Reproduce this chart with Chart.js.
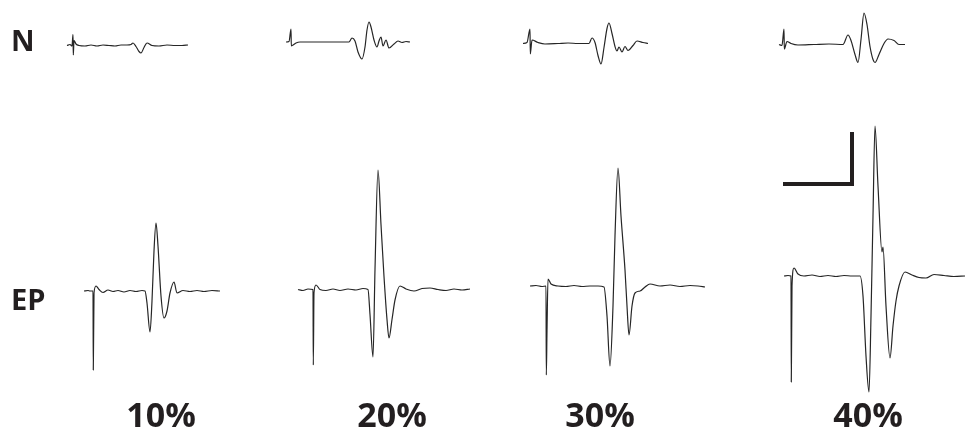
<!DOCTYPE html>
<html>
<head>
<meta charset="utf-8">
<script src="https://cdn.jsdelivr.net/npm/chart.js@4"></script>
<style>
  html, body { margin: 0; padding: 0; background: #fff; }
  #wrap { width: 968px; height: 428px; }
</style>
</head>
<body>
<div id="wrap"><canvas id="traces" width="968" height="428"></canvas></div>
<script>
// Recorded traces: time (samples from sweep start) and amplitude (up = positive)
const rowLabels = ['N', 'EP'];
const intensityLabels = ['10%', '20%', '30%', '40%'];

// N row
const n10Time = [0, 3, 5, 6, 6.3, 7, 9, 12, 18, 24, 30, 36, 42, 48, 54, 60, 64, 66, 69, 72, 74, 77, 80, 85, 92, 100, 108, 115, 121];
const n10Amp  = [0, 1, -0.5, 11, -9.5, 5, 1.5, 0, -0.5, 0.5, -0.5, 0.5, 0, -0.5, 0.5, 0.5, 1, 2.5, -1, -6, -7.5, -2, 2.5, 0, -0.5, 0.5, 0, 0, 0.5];

const n20Time = [0, 3, 5, 5.3, 7, 10, 14, 30, 50, 63, 66, 69, 72, 76, 79, 81, 83, 85, 88, 91, 93, 95, 97, 100, 103, 108, 112, 116, 120, 124];
const n20Amp  = [0, 0.5, 13, -4, -3, -1, 0, 0, 0, 0, 4, 1, -10, -17, -5, 12, 20, 15, 2, -5, 1, 5, -4, 2, -6, -2, 1, -0.5, 0.5, 0];

const n30Time = [0, 4, 7, 7.3, 9, 15, 22, 35, 45, 55, 66, 69, 72, 75, 78, 81, 84, 86, 89, 92, 94, 96, 99, 102, 105, 110, 114, 120, 125];
const n30Amp  = [0, 1, 14.5, -10.5, 3.5, 1, -0.5, 0, 0.5, 0, 0, 5.5, 1, -12, -20.5, -4, 15, 20.5, 10, -3, -7.5, -3.5, -8.5, -3, -7, -2, 2.5, 1, 0];

const n40Time = [0, 3, 5, 5.3, 8, 12, 19, 35, 50, 64, 69, 72, 76, 79, 82, 85, 88, 91, 94, 96, 100, 105, 109, 115, 120, 126];
const n40Amp  = [0, -1, 15.5, -4.5, 3, 1, -0.5, 0, 0.5, 0, 9.5, 4, -10, -18, 5, 31.5, 20, -2, -15, -18, -10, 1, 5.5, 4, 0, 0];

// EP row
const ep10Time = [0, 4, 6, 9, 9.3, 10, 12, 15, 19, 24, 29, 34, 40, 46, 52, 58, 61, 63, 66, 68, 70, 72, 74, 77, 80, 83, 86, 90, 93, 99, 106, 113, 120, 128, 136];
const ep10Amp  = [0, 0.5, 0, 0, -79, -2, 5, 1.5, -1.5, 1, -0.5, 0.5, -1, 0.5, -0.5, 0.5, 0, -12, -41, -10, 40, 68, 45, -5, -27, -20, -2, 9, -2, 0.5, -0.5, 0.5, -0.5, 0.5, 0];

const ep20Time = [0, 5, 10, 15, 15.3, 16, 18, 22, 28, 35, 42, 50, 58, 65, 70, 72, 75, 77, 80, 83, 86, 89, 91, 94, 97, 102, 108, 116, 124, 132, 140, 148, 156, 164, 172];
const ep20Amp  = [0, -1, 0.5, 0, -75.5, -3, 4.5, 0, -1, 0.5, -1, 0.5, -0.5, 1, 0, -25, -67.5, 20, 119.5, 65, 13, -30, -48.5, -30, -10.5, 3.5, 0.5, -1.5, 1, 1.5, 0, -1, 0.5, -0.5, 0.5];

const ep30Time = [0, 6, 12, 16, 16.3, 17, 18, 21, 28, 36, 44, 52, 60, 68, 74, 77, 80, 83, 85, 88, 91, 95, 97, 99, 102, 105, 110, 115, 120, 130, 140, 150, 160, 168, 175];
const ep30Amp  = [0, 0.5, -0.5, 0, -89, -45, 7, 2, 0, -0.5, 0.5, -0.5, 0, 0, -1, -30, -80, -20, 50, 118, 70, 16, -20, -49, -20, -7, -5, -1, 2, 0, 1, -0.5, 0.5, 0, -1];

const ep40Time = [0, 4, 7, 7.3, 8, 10, 14, 20, 28, 36, 44, 52, 60, 68, 76, 79, 82, 85, 87, 89, 91, 94, 98, 99, 102, 106, 109, 112, 115, 121, 128, 135, 142, 150, 160, 170, 181];
const ep40Amp  = [0, 0.5, 0, -106, -10, 8, 2, 0, 1, -0.5, 0.5, -0.5, 0.5, 0, 0, -20, -80, -116, -40, 60, 150, 90, 24, 29, -30, -82, -50, -25, -10, 4, 1, -1.5, -2, 1.5, 0.5, -0.5, 0];

// Calibration bar (time, amplitude)
const scaleBarTime = [0, 67, 67];
const scaleBarAmp  = [0, 0, 50];

// where each sweep sits on the page
const sweepPlacement = [
  { time: n10Time, amp: n10Amp, left: 67, base: 45.5 },
  { time: n20Time, amp: n20Amp, left: 286, base: 42 },
  { time: n30Time, amp: n30Amp, left: 523, base: 43.5 },
  { time: n40Time, amp: n40Amp, left: 779, base: 44.5 },
  { time: ep10Time, amp: ep10Amp, left: 84, base: 291 },
  { time: ep20Time, amp: ep20Amp, left: 298, base: 289.5 },
  { time: ep30Time, amp: ep30Amp, left: 530, base: 286 },
  { time: ep40Time, amp: ep40Amp, left: 784, base: 276 }
];

function toPoints(time, amp, left, base) {
  return time.map((t, i) => ({ x: left + t, y: base - amp[i] }));
}

const datasets = sweepPlacement.map(s => ({
  data: toPoints(s.time, s.amp, s.left, s.base),
  borderColor: '#262626',
  borderWidth: 1.2,
  cubicInterpolationMode: 'monotone'
}));
datasets.push({
  data: toPoints(scaleBarTime, scaleBarAmp, 785, 184),
  borderColor: '#231f20',
  borderWidth: 4,
  borderCapStyle: 'square'
});

// Row / intensity labels
const labelPlugin = {
  id: 'panelLabels',
  afterDraw(chart) {
    const ctx = chart.ctx;
    ctx.save();
    ctx.fillStyle = '#231f20';
    ctx.textBaseline = 'alphabetic';
    ctx.font = 'bold 29px "Open Sans"';
    ctx.textAlign = 'left';
    ctx.fillText(rowLabels[0], 11, 51);
    ctx.fillText(rowLabels[1], 11, 310);
    ctx.font = 'bold 34px "Open Sans"';
    ctx.textAlign = 'center';
    const centers = [161, 392, 600, 868];
    intensityLabels.forEach((lab, i) => ctx.fillText(lab, centers[i], 427));
    ctx.restore();
  }
};

new Chart(document.getElementById('traces').getContext('2d'), {
  type: 'line',
  data: { datasets: datasets },
  options: {
    responsive: false,
    animation: false,
    parsing: false,
    layout: { padding: 0 },
    elements: { point: { radius: 0 }, line: { tension: 0 } },
    plugins: { legend: { display: false }, tooltip: { enabled: false } },
    scales: {
      x: { type: 'linear', min: 0, max: 968, display: false },
      y: { type: 'linear', min: 0, max: 428, reverse: true, display: false }
    }
  },
  plugins: [labelPlugin]
});
</script>
</body>
</html>
